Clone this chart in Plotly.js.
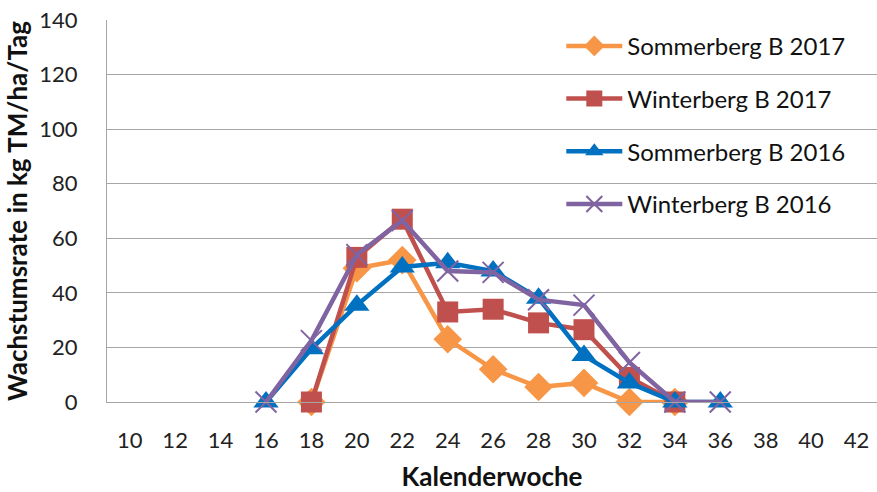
<!DOCTYPE html>
<html>
<head>
<meta charset="utf-8">
<script src="https://cdn.plot.ly/plotly-3.0.1.min.js"></script>
<style>
  html, body { margin: 0; padding: 0; background: #fff; }
  #chart { width: 877px; height: 492px; }
</style>
</head>
<body>
<div id="chart"></div>
<script>
const weeks = [10, 12, 14, 16, 18, 20, 22, 24, 26, 28, 30, 32, 34, 36, 38, 40, 42]

// values, per calendar week
const sommer2017Weeks = [18, 20, 22, 24, 26, 28, 30, 32, 34]
const sommer2017 = [0, 49, 52, 23, 12, 5.5, 7, 0, 0]

const winter2017Weeks = [18, 20, 22, 24, 26, 28, 30, 32, 34]
const winter2017 = [0, 53, 67, 33, 34, 29, 26.5, 9, 0]

const sommer2016Weeks = [16, 18, 20, 22, 24, 26, 28, 30, 32, 34, 36]
const sommer2016 = [0, 19.5, 35.5, 49.5, 51, 48, 38, 17, 7, 0, 0]

const winter2016Weeks = [16, 18, 20, 22, 24, 26, 28, 30, 32, 34, 36]
const winter2016 = [0, 22.5, 54, 66.5, 48, 47.5, 37.5, 35.5, 14.5, 0, 0]

const font = 'Lato, "Open Sans", sans-serif'

const makeTrace = (x, y, name, color, symbol, size) => {
  return {
    x: x,
    y: y,
    name: name,
    legendgroup: name,
    type: 'scatter',
    mode: 'lines+markers',
    line: { color: color, width: 4.5 },
    marker: { symbol: symbol, size: size, color: color, line: { color: color, width: symbol === 'x-thin' ? 2 : 0 } },
    cliponaxis: false
  }
}

const data = [
  makeTrace(sommer2017Weeks, sommer2017, 'Sommerberg B 2017', '#F79646', 'diamond', 22),
  makeTrace(winter2017Weeks, winter2017, 'Winterberg B 2017', '#C0504D', 'square', 21),
  makeTrace(sommer2016Weeks, sommer2016, 'Sommerberg B 2016', '#0070C0', 'triangle-up', 22),
  makeTrace(winter2016Weeks, winter2016, 'Winterberg B 2016', '#8064A2', 'x-thin', 21)
]

const layout = {
  width: 877,
  height: 492,
  margin: { l: 107, r: 0, t: 20, b: 90 },
  paper_bgcolor: '#fff',
  plot_bgcolor: '#fff',
  font: { family: font, size: 22, color: '#222' },
  showlegend: true,
  legend: {
    x: 0.59, y: 0.99,
    xanchor: 'left', yanchor: 'top',
    bgcolor: 'rgba(0,0,0,0)',
    font: { family: font, size: 24, color: '#111' },
    tracegroupgap: 18.5,
    itemwidth: 56
  },
  xaxis: {
    range: [9, 42.9],
    tickvals: weeks,
    ticktext: weeks.map(String),
    showgrid: false,
    zeroline: false,
    showline: true,
    linecolor: '#A6A6A6',
    linewidth: 1,
    ticks: '',
    ticklabelstandoff: 19,
    title: { text: 'Kalenderwoche', font: { family: font, size: 26, color: '#111', weight: 'bold' }, standoff: 18 }
  },
  yaxis: {
    range: [0, 140],
    dtick: 20,
    showgrid: true,
    gridcolor: '#A6A6A6',
    gridwidth: 1,
    zeroline: false,
    showline: true,
    linecolor: '#A6A6A6',
    linewidth: 1,
    ticks: '',
    ticklabelstandoff: 24,
    title: { text: 'Wachstumsrate in kg TM/ha/Tag', font: { family: font, size: 26, color: '#111', weight: 'bold' }, standoff: 4 }
  }
}

Plotly.newPlot('chart', data, layout, { displayModeBar: false, responsive: false })
</script>
</body>
</html>
